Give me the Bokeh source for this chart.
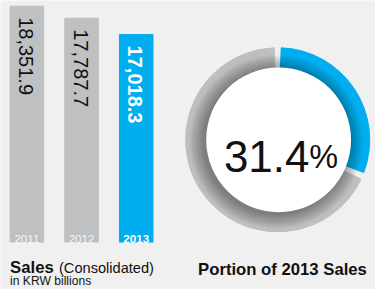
import math
from bokeh.plotting import figure
from bokeh.models import Range1d
from bokeh.core.properties import value
from bokeh.embed import file_html
from bokeh.resources import INLINE

# ---- data ----
years = ["2011", "2012", "2013"]
sales = [18351.9, 17787.7, 17018.3]
sales_labels = ["18,351.9", "17,787.7", "17,018.3"]
share_2013 = [31.4, 68.6]  # percent: 2013 portion, remainder
share_label = "31.4"

BG = "#f0f0f0"
GRAY = "#bfc0c2"
BLUE = "#00aeef"
FONT = "Liberation Sans"

W, H = 375, 289
# reference-pixel coordinate frame (X from left, Y from top)
X0, X1 = 0, 391
Y0, Y1 = 0, 305
SX = W / (X1 - X0)
SY = H / (Y1 - Y0)
REF_H = 305


def yy(Y):
    return REF_H - Y


def fs(px):
    return f"{px * (SX + SY) / 2:.1f}px"


p = figure(width=W, height=H, output_backend="svg", toolbar_location=None,
           x_range=Range1d(X0, X1), y_range=Range1d(yy(Y1), yy(Y0)),
           min_border=0, background_fill_color=BG, border_fill_color=BG,
           outline_line_color=None)
p.axis.visible = False
p.grid.visible = False

# ---- bar chart: own value scale ----
base_Y, top_Y = 255, 6            # baseline and top in reference pixels
base_val = 7285.0                 # value at bar baseline
px_per_unit = (base_Y - top_Y) / (max(sales) - base_val)
v_bottom = base_val - (Y1 - base_Y) / px_per_unit
v_top = base_val + (base_Y - Y0) / px_per_unit
p.extra_y_ranges = {"sales": Range1d(v_bottom, v_top)}

bar_w = 35
xs = [27.5 + i * 57 for i in range(len(years))]
colors = [GRAY, GRAY, BLUE]
p.vbar(x=xs, width=bar_w, bottom=base_val, top=sales, color=colors,
       y_range_name="sales")

# value labels rotated
for i in range(len(years)):
    last = i == len(years) - 1
    p.text(x=[xs[i] - 1], y=[sales[i]], text=[sales_labels[i]], y_range_name="sales",
           angle=-math.pi / 2, text_align="left", text_baseline="middle",
           y_offset=11, text_font=value(FONT), text_font_size=fs(21),
           text_font_style="bold" if last else "normal",
           text_color="white" if last else "#111111")
    p.text(x=[xs[i]], y=[base_val], text=[years[i]], y_range_name="sales",
           text_align="center", text_baseline="alphabetic", y_offset=-3,
           text_font=value(FONT), text_font_size=fs(12.2),
           text_font_style="bold" if last else "normal",
           text_color="white", text_alpha=1.0 if last else 0.85)

# captions left
p.text(x=[10], y=[yy(282)], text=["Sales"], text_font=value(FONT),
       text_font_size=fs(17.5), text_font_style="bold", text_color="#111111",
       text_baseline="alphabetic")
p.text(x=[61], y=[yy(282)], text=["(Consolidated)"], text_font=value(FONT),
       text_font_size=fs(15.3), text_color="#111111", text_baseline="alphabetic")
p.text(x=[10], y=[yy(296)], text=["in KRW billions"], text_font=value(FONT),
       text_font_size=fs(12.7), text_color="#111111", text_baseline="alphabetic")

# ---- donut ----
cx, cY = 289, 147
r_out, r_in = 96, 75.5
gap = math.radians(2.2)
frac = share_2013[0] / sum(share_2013)
a_top = math.pi / 2
a_split = a_top - 2 * math.pi * frac
p.annular_wedge(x=[cx], y=[yy(cY)], inner_radius=r_in - 2, outer_radius=r_out,
                start_angle=a_top - gap, end_angle=a_split + gap,
                direction="clock", color=BLUE)
p.annular_wedge(x=[cx], y=[yy(cY)], inner_radius=r_in - 2, outer_radius=r_out,
                start_angle=a_split - gap, end_angle=a_top + gap,
                direction="clock", color="#bdbec0")
# soft shadow around inner disc (stronger lower-left)
for d in range(15, 0, -1):
    p.circle(x=[cx - 1.5], y=[yy(cY + 2)], radius=r_in + d,
             fill_color="black", fill_alpha=0.022, line_color=None)
p.circle(x=[cx + 1], y=[yy(cY)], radius=r_in, fill_color="white", line_color=None)

p.text(x=[322], y=[yy(165)], text=[share_label], text_font=value(FONT),
       text_font_size=fs(46), text_align="right", text_baseline="alphabetic",
       text_color="#111111")
p.text(x=[322], y=[yy(165)], text=["%"], text_font=value(FONT),
       text_font_size=fs(34), text_align="left", text_baseline="alphabetic",
       text_color="#111111")

p.text(x=[294], y=[yy(284)], text=["Portion of 2013 Sales"], text_font=value(FONT),
       text_font_size=fs(17.5), text_font_style="bold", text_align="center",
       text_baseline="alphabetic", text_color="#111111")

open("out.html", "w").write(file_html(p, INLINE))
